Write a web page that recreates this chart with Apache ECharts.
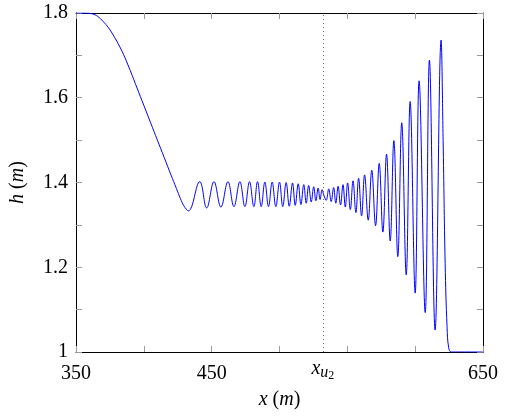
<!DOCTYPE html>
<html>
<head>
<meta charset="utf-8">
<script src="https://cdn.jsdelivr.net/npm/echarts@6/dist/echarts.min.js"></script>
<style>
    html, body { margin: 0; padding: 0; background: #fff; }
    #main { width: 507px; height: 416px; }
</style>
</head>
<body>
<div id="main"></div>
<script>
// x positions (m) of the points
var hx = [
    350, 357, 362, 366, 370, 374, 378, 382, 386, 390, 395, 400, 405, 410, 415, 420, 424, 427, 429.5, 432.8,
    441.2, 446.3, 451.7, 456.8, 462.0, 466.4, 470.8, 474.5, 477.9, 481.1, 483.8, 486.5, 489.2, 491.9,
    494.6, 497.3, 500.0, 502.4, 504.9, 507.2, 509.6, 511.6, 513.8, 515.8, 517.9, 519.7, 521.5, 523.4,
    525.2, 526.8, 528.5, 529.9, 531.4, 532.7,
    534.4, 536.3, 538.1, 539.9, 541.5, 543.2, 545.0, 546.8, 548.5, 550.2, 552.2, 554.2, 556.3, 558.3,
    560.5, 562.7, 565.4, 568.0, 570.8, 573.5, 576.2, 578.9, 581.6, 584.3, 587.2, 590.1, 593.4, 596.3,
    600.0, 602.9, 607.4, 610.5, 614.7, 619.1,
    620.6, 622.1, 623.5, 624.7, 626.5, 630, 650
];
// water depth h (m) at those points
var hv = [
    1.8, 1.8, 1.798, 1.792, 1.78, 1.765, 1.745, 1.722, 1.695, 1.664, 1.623, 1.582, 1.541, 1.5, 1.459, 1.418, 1.386, 1.362, 1.345, 1.333,
    1.402, 1.340, 1.402, 1.342, 1.402, 1.343, 1.402, 1.343, 1.402, 1.343, 1.402, 1.343, 1.401, 1.343,
    1.401, 1.343, 1.401, 1.343, 1.400, 1.344, 1.399, 1.346, 1.397, 1.348, 1.395, 1.351, 1.393, 1.354,
    1.390, 1.357, 1.387, 1.360, 1.383, 1.370,
    1.358, 1.385, 1.355, 1.388, 1.351, 1.391, 1.347, 1.395, 1.342, 1.399, 1.336, 1.404, 1.329, 1.410,
    1.321, 1.418, 1.311, 1.429, 1.298, 1.445, 1.283, 1.467, 1.262, 1.499, 1.225, 1.541, 1.182, 1.591,
    1.139, 1.640, 1.093, 1.689, 1.052, 1.736,
    1.5, 1.209, 1.06, 1.01, 1.0, 1.0, 1.0
];
var xLabels = [350, 450, 650];
var xu2 = 532;

var serif = 'Liberation Serif';
var tickColor = '#9a9a9a';

var curve = [];
for (var i = 0; i < hx.length; i++) {
    curve.push([hx[i], hv[i]]);
}

var chart = echarts.init(document.getElementById('main'));
var option = {
    animation: false,
    textStyle: { fontFamily: serif, color: '#000' },
    grid: { left: 75, right: 24, top: 13, bottom: 64 },
    xAxis: [
        {
            type: 'value', min: 350, max: 650, interval: 50,
            axisLine: { lineStyle: { color: '#000', width: 1 } },
            axisTick: { inside: true, length: 6, lineStyle: { color: tickColor } },
            splitLine: { show: false },
            axisLabel: {
                fontSize: 20, fontFamily: serif, color: '#000', margin: 12,
                formatter: function (v) { return xLabels.indexOf(v) >= 0 ? String(v) : ''; }
            },
            name: '{i|x} ({i|m})',
            nameLocation: 'middle',
            nameGap: 38,
            nameTextStyle: {
                fontSize: 20, fontFamily: serif, color: '#000',
                rich: { i: { fontSize: 20, fontFamily: serif, fontStyle: 'italic' } }
            }
        },
        {
            type: 'value', min: 350, max: 650, interval: 50, position: 'top',
            axisLine: { lineStyle: { color: '#000', width: 1 } },
            axisTick: { inside: true, length: 6, lineStyle: { color: tickColor } },
            axisLabel: { show: false },
            splitLine: { show: false }
        }
    ],
    yAxis: [
        {
            type: 'value', min: 1, max: 1.8, interval: 0.1,
            axisLine: { show: true, lineStyle: { color: '#000', width: 1 } },
            axisTick: { show: true, inside: true, length: 6, lineStyle: { color: tickColor } },
            splitLine: { show: false },
            axisLabel: {
                fontSize: 20, fontFamily: serif, color: '#000', margin: 8,
                formatter: function (v) {
                    var k = Math.round(v * 10);
                    return k % 2 === 0 ? String(k / 10) : '';
                }
            },
            name: '{i|h} ({i|m})',
            nameLocation: 'middle',
            nameRotate: 90,
            nameGap: 48,
            nameTextStyle: {
                fontSize: 20, fontFamily: serif, color: '#000',
                rich: { i: { fontSize: 20, fontFamily: serif, fontStyle: 'italic' } }
            }
        },
        {
            type: 'value', min: 1, max: 1.8, interval: 0.1, position: 'right',
            axisLine: { show: true, lineStyle: { color: '#000', width: 1 } },
            axisTick: { show: true, inside: true, length: 6, lineStyle: { color: tickColor } },
            axisLabel: { show: false },
            splitLine: { show: false }
        }
    ],
    series: [
        {
            type: 'line',
            xAxisIndex: 0,
            yAxisIndex: 0,
            data: curve,
            showSymbol: false,
            smooth: 0.4,
            lineStyle: { color: '#0000ff', width: 1 },
            markLine: {
                silent: true,
                symbol: 'none',
                lineStyle: { color: '#666', type: [1, 3], width: 1 },
                label: {
                    position: 'start',
                    distance: 3,
                    formatter: '{a|x}{b|u}{c|2}',
                    rich: {
                        a: { fontSize: 20, fontFamily: serif, fontStyle: 'italic', color: '#000' },
                        b: { fontSize: 16, fontFamily: serif, fontStyle: 'italic', color: '#000', padding: [9, 0, 0, 0] },
                        c: { fontSize: 12, fontFamily: serif, color: '#000', padding: [15, 0, 0, 0] }
                    }
                },
                data: [{ xAxis: xu2 }]
            }
        }
    ]
};
chart.setOption(option);
window.onresize = function () { chart.resize(); };
</script>
</body>
</html>
